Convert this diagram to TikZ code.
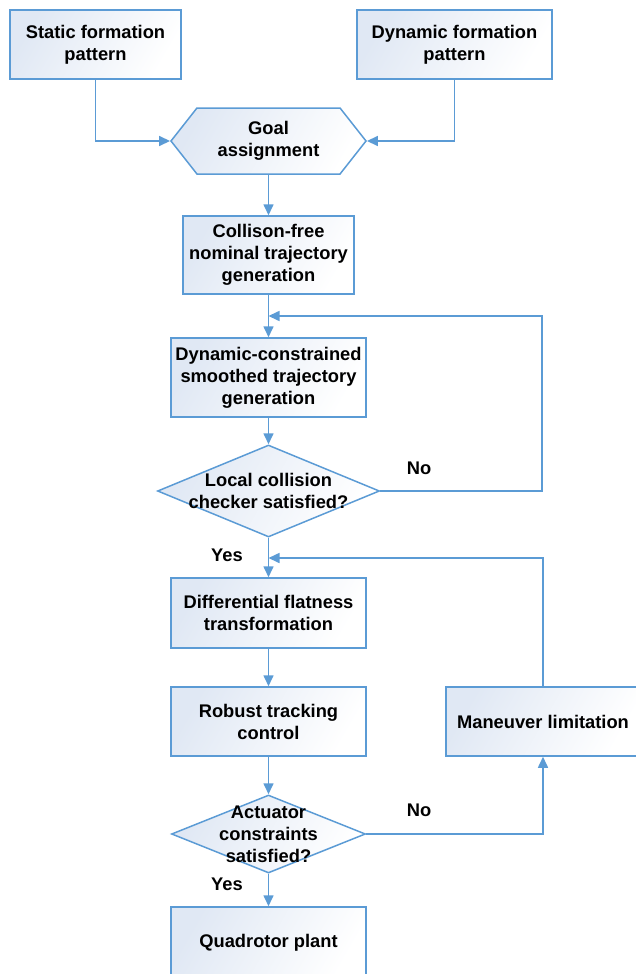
\documentclass[tikz,border=0pt]{standalone}
\usepackage{fontspec}
\setmainfont{Liberation Sans}
\usepackage{xcolor}
\usepackage{tikz}
\usetikzlibrary{arrows.meta, shapes.geometric, shapes.symbols}

\definecolor{lineblue}{RGB}{91,155,213}
\definecolor{shadeblue}{RGB}{224,232,244}

\tikzset{
    boxtext/.style={font=\fontsize{18.3}{22}\selectfont\bfseries, align=center},
    stepbox/.style={boxtext, draw=lineblue, line width=1.5pt, inner sep=2pt,
        top color=shadeblue, bottom color=white, shading angle=60},
    decision/.style={diamond, draw=lineblue, line width=1.5pt, inner sep=0pt,
        top color=shadeblue, bottom color=white, shading angle=60},
    flow/.style={draw=lineblue, line width=1.6pt, -{Triangle[length=11pt, width=10pt]}},
    lbl/.style={font=\fontsize{18.3}{22}\selectfont\bfseries}
}

\begin{document}
\begin{tikzpicture}[x=1pt, y=-1pt]
    % --- FRAME ---
    \useasboundingbox (0,0) rectangle (636,974);
    \clip (0,0) rectangle (636,974);

    % --- INPUT PATTERNS ---
    \node[stepbox, minimum width=171pt, minimum height=69pt] (static) at (95.5,44.5) {Static formation\\pattern};
    \node[stepbox, minimum width=195pt, minimum height=69pt] (dynamic) at (454.5,44.5) {Dynamic formation\\pattern};

    % --- GOAL ASSIGNMENT (hexagon) ---
    \node[stepbox, signal, signal to=west and east, signal pointer angle=103.6,
          minimum width=195pt, minimum height=66pt] (goal) at (268.5,141) {Goal\\assignment};

    % --- TRAJECTORY GENERATION ---
    \node[stepbox, minimum width=171pt, minimum height=78pt] (nom) at (268.5,255) {Collison-free\\nominal trajectory\\generation};
    \node[stepbox, minimum width=195pt, minimum height=79pt] (smooth) at (268.5,377.5) {Dynamic-constrained\\smoothed trajectory\\generation};

    % --- COLLISION CHECK ---
    \node[decision, minimum width=222pt, minimum height=92pt] (chk1) at (268.5,491) {};
    \node[boxtext] (chk1txt) at (chk1) {Local collision\\checker satisfied?};

    % --- CONTROL ---
    \node[stepbox, minimum width=195pt, minimum height=70pt] (diff) at (268.5,613) {Differential flatness\\transformation};
    \node[stepbox, minimum width=195pt, minimum height=69pt] (robust) at (268.5,721.5) {Robust tracking\\control};
    \node[stepbox, minimum width=194pt, minimum height=69pt] (mnv) at (543,721.5) {Maneuver limitation};

    % --- ACTUATOR CHECK ---
    \node[decision, minimum width=194pt, minimum height=78pt] (chk2) at (268.5,834) {};
    \node[boxtext] (chk2txt) at (chk2) {Actuator\\constraints\\satisfied?};

    % --- PLANT ---
    \node[stepbox, minimum width=195pt, minimum height=72pt] (quad) at (268.5,943) {Quadrotor plant};

    % --- CONNECTORS ---
    \coordinate (join1) at (268.5,316);
    \coordinate (corner1) at (542,316);
    \coordinate (join2) at (268.5,558);

    \draw[flow] (static.south) |- (goal.west);
    \draw[flow] (dynamic.south) |- (goal.east);
    \draw[flow] (goal.south) -- (nom.north);
    \draw[flow] (nom.south) -- (smooth.north);
    \draw[flow] (smooth.south) -- (chk1.north);
    \draw[flow] (chk1.east) -| (corner1) -- (join1);
    \draw[flow] (chk1.south) -- (diff.north);
    \draw[flow] (mnv.north) |- (join2);
    \draw[flow] (diff.south) -- (robust.north);
    \draw[flow] (robust.south) -- (chk2.north);
    \draw[flow] (chk2.east) -| (mnv.south);
    \draw[flow] (chk2.south) -- (quad.north);

    % --- YES / NO ---
    \node[lbl] (no1) at (419,468) {No};
    \node[lbl] (yes1) at (227,555) {Yes};
    \node[lbl] (no2) at (419,810) {No};
    \node[lbl] (yes2) at (227,884) {Yes};
\end{tikzpicture}
\end{document}
